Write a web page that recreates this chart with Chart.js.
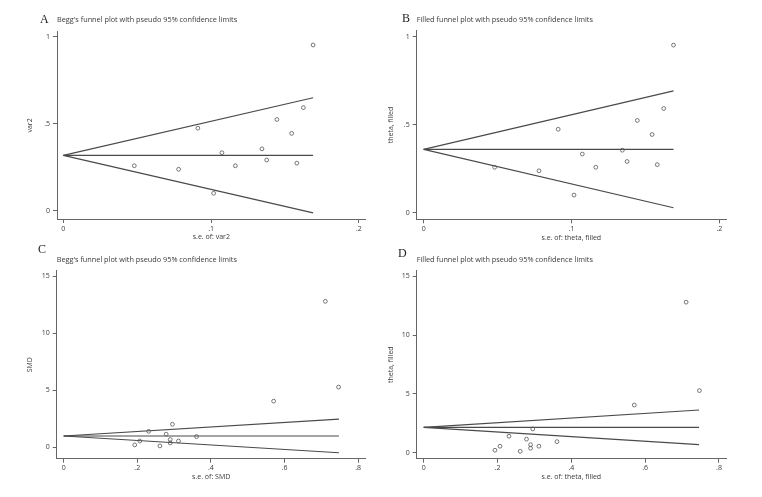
<!DOCTYPE html>
<html>
<head>
<meta charset="utf-8">
<script src="https://cdn.jsdelivr.net/npm/chart.js@4.4.1/dist/chart.umd.min.js"></script>
<style>
  html, body { margin: 0; padding: 0; background: #fff; }
  #wrap { position: relative; width: 762px; height: 497px; overflow: hidden; }
  canvas { position: absolute; }
  .tag { position: absolute; font-family: "Liberation Serif", "DejaVu Serif", serif; font-size: 12px; color: #222; line-height: 12px; }
</style>
</head>
<body>
<div id="wrap">
  <canvas id="panel-a" width="381" height="248" style="left:0;top:0"></canvas>
  <canvas id="panel-b" width="381" height="248" style="left:381px;top:0"></canvas>
  <canvas id="panel-c" width="381" height="249" style="left:0;top:248px"></canvas>
  <canvas id="panel-d" width="381" height="249" style="left:381px;top:248px"></canvas>
  <div class="tag" style="left:40px;top:13px">A</div>
  <div class="tag" style="left:402px;top:12px">B</div>
  <div class="tag" style="left:38px;top:243px">C</div>
  <div class="tag" style="left:398px;top:247px">D</div>
</div>
<script>
// --- 数据: var2 (A, B) ---
const seVar2 = [0.048, 0.078, 0.091, 0.1017, 0.1073, 0.1164, 0.1344, 0.1376, 0.1445, 0.1545, 0.158, 0.1624, 0.169];
const valVar2 = [0.258, 0.238, 0.474, 0.100, 0.333, 0.258, 0.355, 0.291, 0.524, 0.444, 0.273, 0.592, 0.952];

// --- 数据: SMD (C, D) ---
const seSmd = [0.193, 0.2067, 0.231, 0.2615, 0.2785, 0.2895, 0.2895, 0.2955, 0.312, 0.361, 0.5705, 0.711, 0.747];
const valSmd = [0.21, 0.55, 1.40, 0.12, 1.15, 0.68, 0.38, 2.02, 0.55, 0.94, 4.05, 12.8, 5.28];

// 伪 95% 置信限 (两端点: s.e. = 0 和最大 s.e.)
const limitSeA = [0, 0.169];
const centerA = [0.318, 0.318];
const upperA = [0.318, 0.649];
const lowerA = [0.318, -0.013];

const limitSeB = [0, 0.169];
const centerB = [0.360, 0.360];
const upperB = [0.360, 0.692];
const lowerB = [0.360, 0.028];

const limitSeC = [0, 0.748];
const centerC = [0.99, 0.99];
const upperC = [0.99, 2.47];
const lowerC = [0.99, -0.48];

const limitSeD = [0, 0.746];
const centerD = [2.16, 2.16];
const upperD = [2.16, 3.63];
const lowerD = [2.16, 0.69];

// 刻度
const xTicksSmall = [0, 0.1, 0.2];
const yTicksSmall = [0, 0.5, 1];
const xTicksWide = [0, 0.2, 0.4, 0.6, 0.8];
const yTicksWide = [0, 5, 10, 15];

const titleBegg = "Begg's funnel plot with pseudo 95% confidence limits";
const titleFilled = 'Filled funnel plot with pseudo 95% confidence limits';

const AXIS = '#666';
const TEXT = '#3a3a3a';
const FONT = '"Open Sans", "Liberation Sans", sans-serif';

function stataNum(v) {
  return String(v).replace(/^0\./, '.').replace(/^-0\./, '-.');
}

function pairs(xs, ys) {
  return xs.map((x, i) => ({ x: x, y: ys[i] }));
}

function limitLine(xs, ys) {
  return {
    data: pairs(xs, ys),
    showLine: true,
    borderColor: '#4a4a4a',
    borderWidth: 1.2,
    pointRadius: 0,
    clip: false
  };
}

function makePanel(id, p) {
  const W = p.w, H = p.h;
  const xAxisH = 22.5;
  new Chart(document.getElementById(id), {
    type: 'scatter',
    data: {
      datasets: [
        {
          data: pairs(p.se, p.val),
          pointRadius: 1.9,
          pointBorderWidth: 0.8,
          borderColor: '#555',
          backgroundColor: 'rgba(0,0,0,0)',
          clip: false
        },
        limitLine(p.limitSe, p.upper),
        limitLine(p.limitSe, p.center),
        limitLine(p.limitSe, p.lower)
      ]
    },
    options: {
      responsive: false,
      animation: false,
      devicePixelRatio: 1,
      layout: {
        padding: { left: 0, right: W - p.area.r, top: p.titleY - 4.4, bottom: H - p.area.b - xAxisH }
      },
      plugins: {
        legend: { display: false },
        tooltip: { enabled: false },
        title: {
          display: true,
          text: p.title,
          align: 'start',
          fullSize: false,
          color: TEXT,
          font: { family: FONT, size: 7.3, weight: 'normal' },
          padding: { top: 0, bottom: p.area.t - p.titleY - 4.4 }
        }
      },
      scales: {
        x: {
          type: 'linear',
          min: p.xMin, max: p.xMax,
          afterBuildTicks: s => { s.ticks = p.xTicks.map(v => ({ value: v })); },
          afterFit: s => { s.height = xAxisH; },
          grid: { drawOnChartArea: false, drawTicks: true, tickLength: 4, color: AXIS },
          border: { display: true, color: AXIS, width: 1 },
          ticks: { color: TEXT, font: { family: FONT, size: 7 }, padding: 1.3, maxRotation: 0, callback: v => stataNum(v) },
          title: { display: true, text: p.xTitle, color: TEXT, font: { family: FONT, size: 7 }, padding: { top: 0, bottom: 0 } }
        },
        y: {
          type: 'linear',
          min: p.yMin, max: p.yMax,
          afterBuildTicks: s => { s.ticks = p.yTicks.map(v => ({ value: v })); },
          afterFit: s => { s.width = p.area.l; },
          grid: { drawOnChartArea: false, drawTicks: true, tickLength: 4, color: AXIS },
          border: { display: true, color: AXIS, width: 1 },
          ticks: { color: TEXT, font: { family: FONT, size: 7 }, padding: 3, callback: v => stataNum(v) },
          title: { display: true, text: p.yTitle, color: TEXT, font: { family: FONT, size: 7 }, padding: { top: p.yTitleX - 4.2, bottom: 0 } }
        }
      }
    }
  });
}

makePanel('panel-a', {
  w: 381, h: 248, area: { l: 57, t: 32, r: 365.7, b: 219 }, titleY: 20.3, yTitleX: 30,
  title: titleBegg, xTitle: 's.e. of: var2', yTitle: 'var2',
  se: seVar2, val: valVar2, limitSe: limitSeA, center: centerA, upper: upperA, lower: lowerA,
  xMin: -0.0043, xMax: 0.2046, yMin: -0.048, yMax: 1.027, xTicks: xTicksSmall, yTicks: yTicksSmall
});

makePanel('panel-b', {
  w: 381, h: 248, area: { l: 35.7, t: 30.7, r: 345, b: 219.3 }, titleY: 20.3, yTitleX: 10,
  title: titleFilled, xTitle: 's.e. of: theta, filled', yTitle: 'theta, filled',
  se: seVar2, val: valVar2, limitSe: limitSeB, center: centerB, upper: upperB, lower: lowerB,
  xMin: -0.0047, xMax: 0.2045, yMin: -0.0375, yMax: 1.034, xTicks: xTicksSmall, yTicks: yTicksSmall
});

makePanel('panel-c', {
  w: 381, h: 249, area: { l: 56.7, t: 22.7, r: 365.7, b: 210.7 }, titleY: 12.3, yTitleX: 30,
  title: titleBegg, xTitle: 's.e. of: SMD', yTitle: 'SMD',
  se: seSmd, val: valSmd, limitSe: limitSeC, center: centerC, upper: upperC, lower: lowerC,
  xMin: -0.019, xMax: 0.8207, yMin: -1.0, yMax: 15.49, xTicks: xTicksWide, yTicks: yTicksWide
});

makePanel('panel-d', {
  w: 381, h: 249, area: { l: 35.7, t: 22.7, r: 345, b: 210.7 }, titleY: 12.3, yTitleX: 10,
  title: titleFilled, xTitle: 's.e. of: theta, filled', yTitle: 'theta, filled',
  se: seSmd, val: valSmd, limitSe: limitSeD, center: centerD, upper: upperD, lower: lowerD,
  xMin: -0.019, xMax: 0.819, yMin: -0.51, yMax: 15.48, xTicks: xTicksWide, yTicks: yTicksWide
});
</script>
</body>
</html>
